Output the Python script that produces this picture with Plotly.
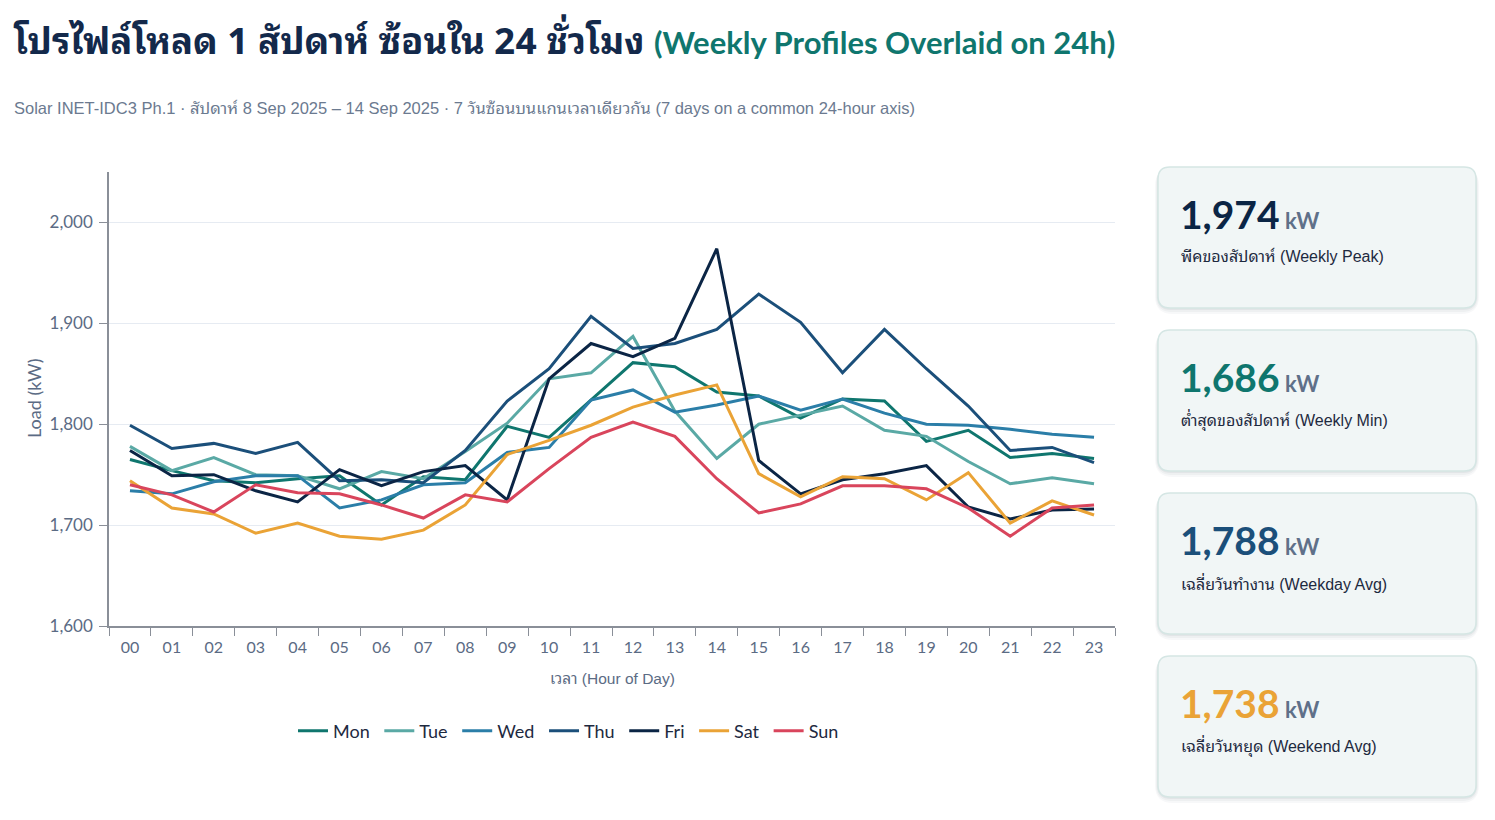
import plotly.graph_objects as go

# ---------------- data ----------------
hours = [f"{h:02d}" for h in range(24)]
days = ["Mon", "Tue", "Wed", "Thu", "Fri", "Sat", "Sun"]
mon = [1765, 1754, 1744, 1742, 1746, 1749, 1720, 1748, 1745, 1798, 1787, 1824, 1861, 1857,
       1832, 1828, 1806, 1825, 1823, 1783, 1794, 1767, 1771, 1766]
tue = [1778, 1754, 1767, 1750, 1749, 1736, 1753, 1746, 1773, 1801, 1845, 1851, 1887, 1813,
       1766, 1800, 1809, 1818, 1794, 1788, 1763, 1741, 1747, 1741]
wed = [1734, 1731, 1743, 1749, 1749, 1717, 1725, 1740, 1742, 1772, 1777, 1824, 1834, 1812,
       1819, 1828, 1814, 1825, 1811, 1800, 1799, 1795, 1790, 1787]
thu = [1799, 1776, 1781, 1771, 1782, 1744, 1745, 1742, 1774, 1823, 1855, 1907, 1875, 1880,
       1894, 1929, 1901, 1851, 1894, 1855, 1818, 1774, 1777, 1762]
fri = [1774, 1749, 1750, 1734, 1723, 1755, 1739, 1753, 1759, 1725, 1845, 1880, 1867, 1885,
       1974, 1764, 1731, 1745, 1751, 1759, 1718, 1706, 1715, 1716]
sat = [1744, 1717, 1711, 1692, 1702, 1689, 1686, 1695, 1720, 1770, 1784, 1799, 1817, 1829,
       1839, 1751, 1728, 1748, 1746, 1725, 1752, 1702, 1724, 1710]
sun = [1740, 1730, 1713, 1740, 1732, 1731, 1720, 1707, 1730, 1723, 1756, 1787, 1802, 1788,
       1746, 1712, 1721, 1739, 1739, 1736, 1717, 1689, 1717, 1720]
series = [mon, tue, wed, thu, fri, sat, sun]
colors = ["#0f766e", "#5aa9a5", "#2b7ea8", "#1b4f7a", "#0b2545", "#eaa336", "#d9455c"]

y_ticks = [1600, 1700, 1800, 1900, 2000]

kpi_values = ["1,974", "1,686", "1,788", "1,738"]
kpi_labels = ["พีคของสัปดาห์ (Weekly Peak)", "ต่ำสุดของสัปดาห์ (Weekly Min)",
              "เฉลี่ยวันทำงาน (Weekday Avg)", "เฉลี่ยวันหยุด (Weekend Avg)"]
kpi_colors = ["#0b2545", "#0f766e", "#1b4f7a", "#eaa336"]

title_th = "โปรไฟล์โหลด 1 สัปดาห์ ซ้อนใน 24 ชั่วโมง"
title_en = "(Weekly Profiles Overlaid on 24h)"
subtitle = ("Solar INET-IDC3 Ph.1 · สัปดาห์ 8 Sep 2025 – 14 Sep 2025 · 7 วันซ้อนบนแกนเวลาเดียวกัน "
            "(7 days on a common 24-hour axis)")

# ---------------- layout geometry (pixels) ----------------
W, H = 1495, 820
PL, PR, PT, PB = 109, 1115, 172, 626

def px(x):
    return (x - PL) / (PR - PL)

def py(y):
    return (PB - y) / (PB - PT)

LAT = "Lato, sans-serif"
THF = "Noto Sans Thai Looped, Noto Sans Thai, Noto Sans, sans-serif"
ARF = "Liberation Sans, Noto Sans Thai Looped, Noto Sans Thai, sans-serif"

fig = go.Figure()
for name, vals, c in zip(days, series, colors):
    fig.add_trace(go.Scatter(x=hours, y=vals, name=name + "\u00a0", mode="lines",
                             line=dict(color=c, width=3)))

fig.update_layout(
    width=W, height=H,
    margin=dict(l=PL, r=W - PR, t=PT, b=H - PB),
    paper_bgcolor="white", plot_bgcolor="white",
    showlegend=True,
    legend=dict(orientation="h", x=px(293), xanchor="left", y=py(731), yanchor="middle",
                font=dict(family=LAT, size=18, color="#1e2a3f"), itemwidth=30,
                bgcolor="rgba(0,0,0,0)"),
    font=dict(family=LAT),
)
fig.update_xaxes(type="category", tickson="boundaries", ticks="outside", ticklen=8,
                 tickcolor="#8a8f98", showline=True, linecolor="#8a8f98", linewidth=1.5,
                 showgrid=False, tickfont=dict(family=LAT, size=16, color="#5b6b84"),
                 ticklabelstandoff=6, range=[-0.5, 23.5], fixedrange=True)
fig.update_yaxes(range=[1600, 2050], tickvals=y_ticks, tickformat=",", ticks="outside",
                 ticklen=8, tickcolor="#8a8f98", showline=True, linecolor="#8a8f98",
                 linewidth=1.5, showgrid=True, gridcolor="#e6ebf2", gridwidth=1,
                 zeroline=False, ticklabelstandoff=3,
                 tickfont=dict(family=LAT, size=17, color="#5b6b84"))

ann = []
ann.append(dict(x=px(11), y=py(38), xref="paper", yref="paper", xanchor="left", yanchor="middle",
                showarrow=False,
                text=(f"<b>{title_th}</b> "
                      f"<span style=\"color:#0f766e;font-family:Lato;font-size:31px\"><b>{title_en}</b></span>"),
                font=dict(size=36.5, color="#13294b", family=THF)))
ann.append(dict(x=px(12), y=py(108), xref="paper", yref="paper", xanchor="left", yanchor="middle",
                showarrow=False, text=subtitle,
                font=dict(size=16.5, color="#6b7a90", family=ARF)))
ann.append(dict(x=px(34), y=py(399), xref="paper", yref="paper", xanchor="center", yanchor="middle",
                showarrow=False, text="Load (kW)", textangle=-90,
                font=dict(size=18, color="#5b6b84", family=LAT)))
ann.append(dict(x=px(612), y=py(678), xref="paper", yref="paper", xanchor="center", yanchor="middle",
                showarrow=False, text="เวลา (Hour of Day)",
                font=dict(size=15.5, color="#5b6b84", family=ARF)))

shapes = []

def rrect(x0, y0, x1, y1, r):
    X0, X1 = px(x0), px(x1)
    Y0, Y1 = py(y0), py(y1)
    rx = r / (PR - PL)
    ry = r / (PB - PT)
    return (f"M {X0+rx} {Y0} L {X1-rx} {Y0} Q {X1} {Y0} {X1} {Y0-ry} "
            f"L {X1} {Y1+ry} Q {X1} {Y1} {X1-rx} {Y1} L {X0+rx} {Y1} "
            f"Q {X0} {Y1} {X0} {Y1+ry} L {X0} {Y0-ry} Q {X0} {Y0} {X0+rx} {Y0} Z")

card_tops = [167, 330, 493, 656]
CX0, CX1, CH = 1158, 1476, 141
for top, val, lab, col in zip(card_tops, kpi_values, kpi_labels, kpi_colors):
    for d, a in [(6, 0.03), (4, 0.04), (2, 0.05)]:
        shapes.append(dict(type="path", xref="paper", yref="paper",
                           path=rrect(CX0 - d / 2, top + 1, CX1 + d / 2, top + CH + d, 12 + d),
                           fillcolor=f"rgba(15,40,60,{a})", line=dict(width=0), layer="below"))
    shapes.append(dict(type="path", xref="paper", yref="paper",
                       path=rrect(CX0, top, CX1, top + CH, 12),
                       fillcolor="#f1f6f6", line=dict(color="#d5e6e4", width=1.5), layer="below"))
    ann.append(dict(x=px(1178), y=py(top + 47), xref="paper", yref="paper",
                    xanchor="left", yanchor="middle", showarrow=False,
                    text=(f"<b>{val}</b><span style=\"font-size:22px;color:#5f7089\"><b>\u2009\u2009kW</b></span>"),
                    font=dict(size=39, color=col, family=LAT)))
    ann.append(dict(x=px(1179), y=py(top + 89), xref="paper", yref="paper",
                    xanchor="left", yanchor="middle", showarrow=False, text=lab,
                    font=dict(size=16, color="#1e2a3f", family=ARF)))

fig.update_layout(annotations=ann, shapes=shapes)
fig.write_html("out.html")
